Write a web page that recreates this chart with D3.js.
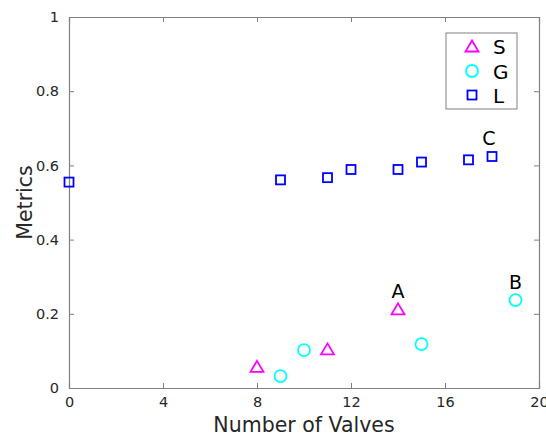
<!DOCTYPE html>
<html><head><meta charset="utf-8">
<script src="https://cdn.jsdelivr.net/npm/d3@7"></script>
<style>body{margin:0;background:#fff}svg{display:block}text{font-family:"DejaVu Sans",sans-serif}</style>
</head><body><svg id="c" width="546" height="436"></svg>
<script>
const xTicks = [0, 4, 8, 12, 16, 20];
const yTicks = [0, 0.2, 0.4, 0.6, 0.8, 1];
const sX = [8, 11, 14];
const sY = [0.057, 0.104, 0.212];
const gX = [9, 10, 15, 19];
const gY = [0.032, 0.102, 0.118, 0.237];
const lX = [0, 9, 11, 12, 14, 15, 17, 18];
const lY = [0.555, 0.561, 0.567, 0.589, 0.589, 0.609, 0.615, 0.624];
const annText = ["A", "B", "C"];
const annX = [14, 19, 18];
const annY = [0.212, 0.237, 0.624];
const legendNames = ["S", "G", "L"];

const svg = d3.select("#c");
const L = 69, R = 539, T = 17, B = 388;
const x = d3.scaleLinear().domain([0, 20]).range([L, R]);
const y = d3.scaleLinear().domain([0, 1]).range([B, T]);
const axisCol = "#808080", txtCol = "#262626";

function styleAxis(g, hide) {
  g.select(".domain").attr("stroke", axisCol).attr("stroke-width", 1.2);
  g.selectAll(".tick line").attr("stroke", axisCol);
  g.selectAll(".tick text").attr("fill", txtCol).style("font-size", "14.5px");
  if (hide) g.selectAll(".tick text").remove();
}
svg.append("g").attr("transform", `translate(0,${B})`)
  .call(d3.axisBottom(x).tickValues(xTicks).tickSize(-5).tickPadding(9).tickFormat(d3.format("d")))
  .call(g => styleAxis(g));
svg.append("g").attr("transform", `translate(0,${T})`)
  .call(d3.axisTop(x).tickValues(xTicks).tickSize(-5))
  .call(g => styleAxis(g, true));
svg.append("g").attr("transform", `translate(${L},0)`)
  .call(d3.axisLeft(y).tickValues(yTicks).tickSize(-5).tickPadding(10).tickFormat(d => d === 0 || d === 1 ? d3.format("d")(d) : d3.format(".1f")(d)))
  .call(g => styleAxis(g));
svg.append("g").attr("transform", `translate(${R},0)`)
  .call(d3.axisRight(y).tickValues(yTicks).tickSize(-5))
  .call(g => styleAxis(g, true));

svg.append("text").attr("x", (L + R) / 2).attr("y", 432).attr("text-anchor", "middle")
  .attr("fill", txtCol).style("font-size", "20.5px").text("Number of Valves");
svg.append("text").attr("transform", `translate(32,${(T + B) / 2}) rotate(-90)`).attr("text-anchor", "middle")
  .attr("fill", txtCol).style("font-size", "20.5px").text("Metrics");

function drawTri(g, cx, cy) {
  g.append("path").attr("d", "M0,-6 L6.5,5 L-6.5,5 Z").attr("transform", `translate(${cx},${cy})`)
    .attr("fill", "none").attr("stroke", "#ff00ff").attr("stroke-width", 1.8);
}
function drawCirc(g, cx, cy) {
  g.append("circle").attr("cx", cx).attr("cy", cy).attr("r", 6)
    .attr("fill", "none").attr("stroke", "#00ffff").attr("stroke-width", 1.8);
}
function drawSq(g, cx, cy) {
  g.append("rect").attr("x", cx - 4.5).attr("y", cy - 4.5).attr("width", 9).attr("height", 9)
    .attr("fill", "none").attr("stroke", "#0000ff").attr("stroke-width", 1.8);
}
const pts = svg.append("g");
lX.forEach((v, i) => drawSq(pts, x(v), y(lY[i])));
sX.forEach((v, i) => drawTri(pts, x(v), y(sY[i])));
gX.forEach((v, i) => drawCirc(pts, x(v), y(gY[i])));

annText.forEach((t, i) => {
  svg.append("text").attr("x", x(annX[i]) - (t === "C" ? 3 : 0)).attr("y", y(annY[i]) - 11)
    .attr("text-anchor", "middle").attr("fill", "#000").style("font-size", "19px").text(t);
});

const lg = svg.append("g");
lg.append("rect").attr("x", 446).attr("y", 33).attr("width", 71).attr("height", 76)
  .attr("fill", "#fff").attr("stroke", axisCol).attr("stroke-width", 1);
const rowsY = [46.5, 71, 95];
drawTri(lg, 472, rowsY[0]);
drawCirc(lg, 472, rowsY[1]);
drawSq(lg, 472, rowsY[2]);
legendNames.forEach((n, i) => lg.append("text").attr("x", 493).attr("y", rowsY[i] + 7.5)
  .attr("fill", "#000").style("font-size", "20px").text(n));
</script></body></html>
